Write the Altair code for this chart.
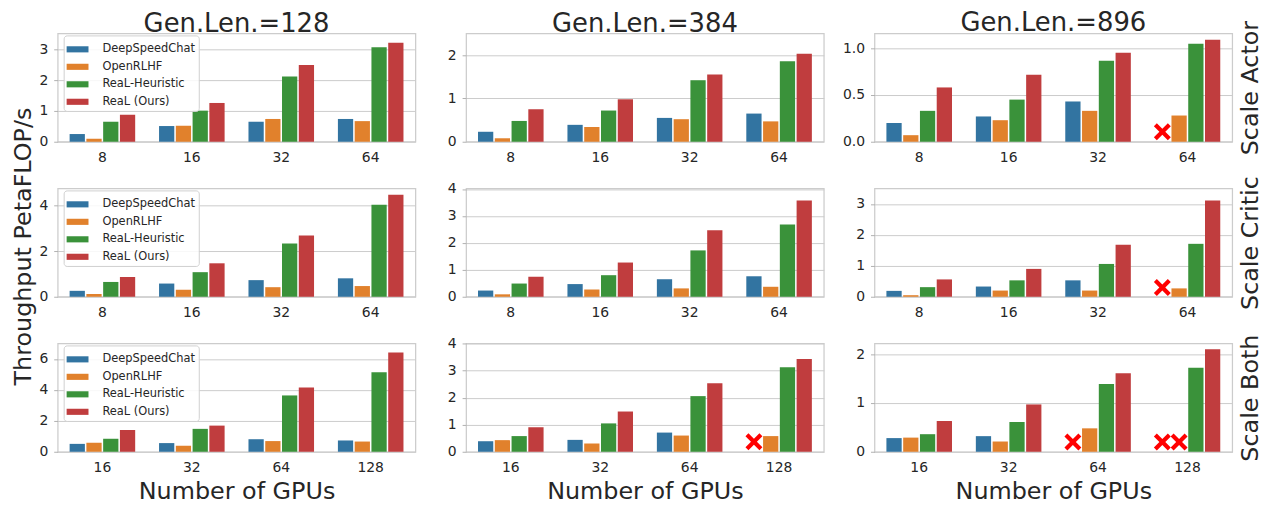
import altair as alt
import pandas as pd

methods = ["DeepSpeedChat", "OpenRLHF", "ReaL-Heuristic", "ReaL (Ours)"]
colors = ["#3274a1", "#e1812c", "#3a923a", "#c03d3e"]
gen_lens = ["Gen.Len.=128", "Gen.Len.=384", "Gen.Len.=896"]
row_names = ["Scale Actor", "Scale Critic", "Scale Both"]
gpus_actor = ["8", "16", "32", "64"]
gpus_critic = ["8", "16", "32", "64"]
gpus_both = ["16", "32", "64", "128"]

# values per panel: [DeepSpeedChat, OpenRLHF, ReaL-Heuristic, ReaL (Ours)], None = OOM
actor_128 = [[0.25, 0.51, 0.65, 0.74], [0.10, 0.52, 0.74, 0.67], [0.65, 1.01, 2.12, 3.07], [0.88, 1.26, 2.49, 3.22]]
actor_384 = [[0.23, 0.39, 0.55, 0.65], [0.08, 0.34, 0.52, 0.47], [0.48, 0.72, 1.42, 1.86], [0.75, 0.98, 1.55, 2.03]]
actor_896 = [[0.20, 0.27, 0.43, None], [0.07, 0.23, 0.33, 0.28], [0.33, 0.45, 0.865, 1.046], [0.58, 0.715, 0.95, 1.09]]
critic_128 = [[0.26, 0.58, 0.73, 0.81], [0.12, 0.31, 0.42, 0.47], [0.65, 1.08, 2.34, 4.04], [0.87, 1.47, 2.69, 4.48]]
critic_384 = [[0.23, 0.47, 0.65, 0.76], [0.09, 0.27, 0.31, 0.37], [0.49, 0.80, 1.72, 2.68], [0.74, 1.27, 2.47, 3.57]]
critic_896 = [[0.19, 0.33, 0.53, None], [0.05, 0.20, 0.20, 0.27], [0.31, 0.53, 1.06, 1.71], [0.56, 0.90, 1.68, 3.11]]
both_128 = [[0.51, 0.56, 0.81, 0.73], [0.58, 0.39, 0.69, 0.66], [0.84, 1.48, 3.64, 5.14], [1.41, 1.69, 4.16, 6.41]]
both_384 = [[0.39, 0.44, 0.71, None], [0.43, 0.31, 0.60, 0.58], [0.58, 1.05, 2.06, 3.13], [0.91, 1.49, 2.54, 3.43]]
both_896 = [[0.28, 0.32, None, None], [0.29, 0.21, 0.48, None], [0.36, 0.61, 1.39, 1.72], [0.63, 0.97, 1.61, 2.10]]

y_max = [[3.52, 2.5, 1.157], [4.76, 4.02, 3.5], [7.0, 4.01, 2.22]]
y_ticks = [
    [[0, 1, 2, 3], [0, 1, 2], [0, 0.5, 1.0]],
    [[0, 2, 4], [0, 1, 2, 3, 4], [0, 1, 2, 3]],
    [[0, 2, 4, 6], [0, 1, 2, 3, 4], [0, 1, 2]],
]
y_formats = [["d", "d", ".1f"], ["d", "d", "d"], ["d", "d", "d"]]

# OOM markers (red crosses): row, column, gpu, method, marker height
oom_row = [0, 1, 2, 2, 2, 2]
oom_col = [2, 2, 1, 2, 2, 2]
oom_gpu = ["64", "64", "128", "64", "128", "128"]
oom_method = ["DeepSpeedChat", "DeepSpeedChat", "DeepSpeedChat", "DeepSpeedChat", "DeepSpeedChat", "OpenRLHF"]
oom_y = [0.107, 0.30, 0.37, 0.20, 0.20, 0.20]

values = [[actor_128, actor_384, actor_896], [critic_128, critic_384, critic_896], [both_128, both_384, both_896]]
gpus = [gpus_actor, gpus_critic, gpus_both]

TXT = "#262626"
FONT = "DejaVu Sans"
XPATH = "M-1,-0.65L-0.65,-1L0,-0.35L0.65,-1L1,-0.65L0.35,0L1,0.65L0.65,1L0,0.35L-0.65,1L-1,0.65L-0.35,0Z"
RECT = "M-1,-0.28L1,-0.28L1,0.28L-1,0.28Z"
W, H = 360, 109
title_offsets = [-4, -4, -16]


def panel(r, c):
    recs = []
    for mi, m in enumerate(methods):
        for gi, g in enumerate(gpus[r]):
            v = values[r][c][mi][gi]
            if v is not None:
                recs.append({"gpu": g, "method": m, "value": v})
    df = pd.DataFrame(recs)

    xscale = alt.Scale(domain=gpus[r], paddingInner=0.25, paddingOuter=0.125)
    xoff = alt.Scale(domain=methods, paddingInner=0.09, paddingOuter=0.045)
    yscale = alt.Scale(domain=[0, y_max[r][c]], nice=False, zero=True)

    if r == 2:
        xaxis = alt.Axis(title="Number of GPUs", titleY=47, titleBaseline="alphabetic",
                         labelAngle=0)
    else:
        xaxis = alt.Axis(title=None, labelAngle=0)

    if r == 1 and c == 0:
        yaxis = alt.Axis(values=y_ticks[r][c], format=y_formats[r][c],
                         title="Throughput PetaFLOP/s", titleAngle=270, titleX=-27, titleY=58,
                         titleBaseline="alphabetic", titleAlign="center")
    else:
        yaxis = alt.Axis(values=y_ticks[r][c], format=y_formats[r][c], title=None)

    if c == 0:
        legend = alt.Legend(orient="none", legendX=6, legendY=2, title=None,
                            symbolType=RECT, symbolSize=484, symbolStrokeWidth=0,
                            labelOffset=14, labelFontSize=11.5, labelFont=FONT, labelColor=TXT,
                            fillColor="rgba(255,255,255,0.85)", strokeColor="#d0d0d0",
                            cornerRadius=3, padding=3, rowPadding=0.6)
        color = alt.Color("method:N", scale=alt.Scale(domain=methods, range=colors), legend=legend)
    else:
        color = alt.Color("method:N", scale=alt.Scale(domain=methods, range=colors), legend=None)

    bars = alt.Chart(df).mark_bar().encode(
        x=alt.X("gpu:N", scale=xscale, axis=xaxis),
        xOffset=alt.XOffset("method:N", scale=xoff),
        y=alt.Y("value:Q", scale=yscale, axis=yaxis),
        color=color,
    )
    layers = [bars]

    orecs = [{"gpu": oom_gpu[i], "method": oom_method[i], "value": oom_y[i]}
             for i in range(len(oom_row)) if oom_row[i] == r and oom_col[i] == c]
    if orecs:
        marks = alt.Chart(pd.DataFrame(orecs)).mark_point(
            shape=XPATH, filled=True, color="#ff0000", size=290, opacity=1, strokeWidth=0
        ).encode(
            x=alt.X("gpu:N", scale=xscale, axis=xaxis),
            xOffset=alt.XOffset("method:N", scale=xoff),
            y=alt.Y("value:Q", scale=yscale, axis=None),
        )
        layers.append(marks)

    if c == 2:
        dummy = alt.Chart(df).mark_point(opacity=0).encode(
            y=alt.Y("value:Q", scale=yscale,
                    axis=alt.Axis(orient="right", title=row_names[r], labels=False, ticks=False,
                                  domain=False, grid=False, titleAngle=270, titleX=25,
                                  titleY=H / 2, titleBaseline="alphabetic", titleAlign="center")),
        )
        layers.append(dummy)

    ch = alt.layer(*layers).resolve_axis(y="independent")
    props = dict(width=W, height=H)
    if r == 0:
        props["title"] = alt.Title(gen_lens[c], fontSize=26, fontWeight="normal", color=TXT,
                                   font=FONT, offset=title_offsets[c], frame="group")
    return ch.properties(**props)


panels = [panel(r, c) for r in range(3) for c in range(3)]

chart = alt.concat(
    *panels, columns=3, spacing={"row": 47, "column": 51}, bounds="flush",
    padding={"left": 3, "top": 0, "right": 0, "bottom": 0}, background="white",
).resolve_scale(color="independent").configure_view(
    stroke="#cccccc", strokeWidth=1.25
).configure_axis(
    labelFont=FONT, labelFontSize=14, labelColor=TXT,
    titleFont=FONT, titleFontSize=24, titleFontWeight="normal", titleColor=TXT,
    gridColor="#cccccc", gridWidth=1, domain=False,
).configure_axisX(
    ticks=False, grid=False, labelPadding=9,
).configure_axisY(
    tickSize=4, tickColor="#b0b0b0", tickWidth=1, labelPadding=6, grid=True,
).configure_title(
    font=FONT, color=TXT,
)

chart.save("out.html", embed_options={"renderer": "svg", "actions": False})
